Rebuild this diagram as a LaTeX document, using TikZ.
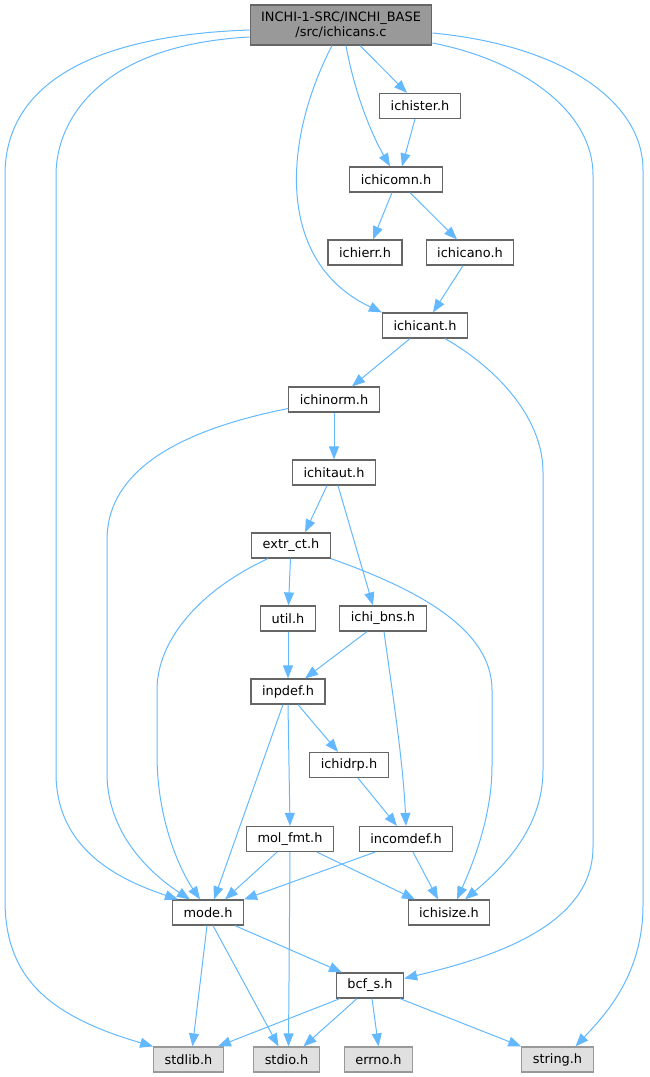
\documentclass[tikz,border=0pt]{standalone}
\usepackage{fontspec}
\usepackage{tikz}
\usetikzlibrary{arrows.meta}
\newfontfamily\dxfont{DejaVu Sans}
\definecolor{dxEdge}{RGB}{99,184,255}
\definecolor{dxBorder}{RGB}{102,102,102}
\definecolor{dxRoot}{RGB}{153,153,153}
\definecolor{dxSys}{RGB}{224,224,224}
\definecolor{dxSysBorder}{RGB}{153,153,153}

\begin{document}
\begin{tikzpicture}[
  x=1pt, y=-1pt,
  file/.style={draw=dxBorder, fill=white, line width=1.2pt, minimum height=25pt, inner xsep=11pt, inner ysep=0pt, font=\dxfont\fontsize{12.9}{15}\selectfont},
  sys/.style={file, draw=dxSysBorder, fill=dxSys},
  main/.style={file, fill=dxRoot, minimum height=40pt, align=center},
  dep/.style={-{Triangle[length=13pt, width=10pt]}, dxEdge, line width=1pt}
]
  \useasboundingbox (0,0) rectangle (649,1077);

  \node[main] (root) at (341,25) {INCHI-1-SRC/INCHI\_BASE\\/src/ichicans.c};
  \node[file] (ichister) at (420,106) {ichister.h};
  \node[file] (ichicomn) at (396,179.5) {ichicomn.h};
  \node[file] (ichierr) at (365,252.5) {ichierr.h};
  \node[file] (ichicano) at (470,252.5) {ichicano.h};
  \node[file] (ichicant) at (425,325.5) {ichicant.h};
  \node[file] (ichinorm) at (334,399.5) {ichinorm.h};
  \node[file] (ichitaut) at (334,472.5) {ichitaut.h};
  \node[file] (extrct) at (291,545.5) {extr\_ct.h};
  \node[file] (util) at (288,618.5) {util.h};
  \node[file] (ichibns) at (383,618.5) {ichi\_bns.h};
  \node[file] (inpdef) at (288,691.5) {inpdef.h};
  \node[file] (ichidrp) at (349,765) {ichidrp.h};
  \node[file] (molfmt) at (290,839) {mol\_fmt.h};
  \node[file] (incomdef) at (406,839) {incomdef.h};
  \node[file] (mode) at (208,912.5) {mode.h};
  \node[file] (ichisize) at (449,912.5) {ichisize.h};
  \node[file] (bcfs) at (370,985.5) {bcf\_s.h};
  \node[sys] (stdlib) at (188.5,1059.5) {stdlib.h};
  \node[sys] (stdio) at (286.5,1059.5) {stdio.h};
  \node[sys] (errno) at (378.5,1059.5) {errno.h};
  \node[sys] (string) at (557.5,1059.5) {string.h};

  \draw[dep] ([xshift=19pt]root.south) -- ([xshift=-13pt]ichister.north);
  \draw[dep] ([xshift=5pt]root.south) .. controls (355,95) and (372,135) .. ([xshift=-6pt]ichicomn.north);
  \draw[dep] ([xshift=-9pt]root.south) .. controls (283,140) and (275,262) .. (ichicant.north west);
  \draw[dep] ([yshift=-5pt]root.west) .. controls (100,35) and (5,80) .. (5,175) -- (5,900) .. controls (5,975) and (45,1015) .. (stdlib.north west);
  \draw[dep] ([yshift=-12pt]root.west) .. controls (100,45) and (56,120) .. (56,175) -- (56,773) .. controls (56,850) and (120,880) .. ([xshift=-30pt]mode.north);
  \draw[dep] ([yshift=-18pt]root.east) .. controls (520,60) and (593,110) .. (593,175) -- (593,847) .. controls (593,930) and (480,960) .. ([yshift=7pt]bcfs.east);
  \draw[dep] ([yshift=-8pt]root.east) .. controls (560,45) and (643,100) .. (643,170) -- (643,905) .. controls (643,975) and (605,1015) .. ([xshift=18pt]string.north);

  \draw[dep] ([xshift=-5pt]ichister.south) -- ([xshift=6pt]ichicomn.north);
  \draw[dep] ([xshift=-4pt]ichicomn.south) -- ([xshift=8pt]ichierr.north);
  \draw[dep] ([xshift=14pt]ichicomn.south) -- ([xshift=-13pt]ichicano.north);
  \draw[dep] ([xshift=-7pt]ichicano.south) -- ([xshift=8pt]ichicant.north);
  \draw[dep] ([xshift=-15pt]ichicant.south) -- ([xshift=18pt]ichinorm.north);
  \draw[dep] ([xshift=20pt]ichicant.south) .. controls (500,370) and (543,420) .. (543,472) -- (543,770) .. controls (543,830) and (500,870) .. ([xshift=16pt]ichisize.north);
  \draw[dep] (ichinorm) -- (ichitaut);
  \draw[dep] ([yshift=-9pt]ichinorm.west) .. controls (180,430) and (107,470) .. (107,540) -- (107,773) .. controls (107,840) and (160,880) .. ([xshift=-18pt]mode.north);
  \draw[dep] ([xshift=-7pt]ichitaut.south) -- ([xshift=14pt]extrct.north);
  \draw[dep] ([xshift=4pt]ichitaut.south) -- ([xshift=-10pt]ichibns.north);

  \draw[dep] (extrct) -- (util);
  \draw[dep] ([xshift=-23pt]extrct.south) .. controls (200,590) and (157,640) .. (157,690) -- (157,755) .. controls (157,820) and (180,870) .. ([xshift=-8pt]mode.north);
  \draw[dep] (extrct.south east) .. controls (420,590) and (492,630) .. (492,690) -- (492,766) .. controls (492,820) and (470,870) .. ([xshift=8pt]ichisize.north);
  \draw[dep] (util) -- (inpdef);
  \draw[dep] ([xshift=-16pt]ichibns.south) -- ([xshift=17pt]inpdef.north);
  \draw[dep] ([xshift=1pt]ichibns.south) .. controls (392,690) and (403,760) .. (incomdef.north);
  \draw[dep] ([xshift=10pt]inpdef.south) -- ([xshift=-11pt]ichidrp.north);
  \draw[dep] (inpdef.south) -- (molfmt.north);
  \draw[dep] ([xshift=-5pt]inpdef.south) -- ([xshift=6pt]mode.north);
  \draw[dep] ([xshift=9pt]ichidrp.south) -- ([xshift=-9pt]incomdef.north);

  \draw[dep] ([xshift=-13pt]molfmt.south) -- ([xshift=17pt]mode.north);
  \draw[dep] ([xshift=27pt]molfmt.south) -- ([xshift=-34pt]ichisize.north);
  \draw[dep] (molfmt.south) -- ([xshift=2pt]stdio.north);
  \draw[dep] ([xshift=-31pt]incomdef.south) -- (mode.north east);
  \draw[dep] ([xshift=7pt]incomdef.south) -- ([xshift=-11pt]ichisize.north);

  \draw[dep] ([xshift=-1pt]mode.south) -- ([xshift=4pt]stdlib.north);
  \draw[dep] ([xshift=5pt]mode.south) -- ([xshift=-8pt]stdio.north);
  \draw[dep] ([xshift=27pt]mode.south) -- ([xshift=-28pt]bcfs.north);
  \draw[dep] ([xshift=-30pt]bcfs.south) -- ([xshift=-6pt]stdlib.north east);
  \draw[dep] ([xshift=-13pt]bcfs.south) -- ([xshift=17pt]stdio.north);
  \draw[dep] ([xshift=2pt]bcfs.south) -- (errno.north);
  \draw[dep] ([xshift=30pt]bcfs.south) -- (string.north west);
\end{tikzpicture}
\end{document}
